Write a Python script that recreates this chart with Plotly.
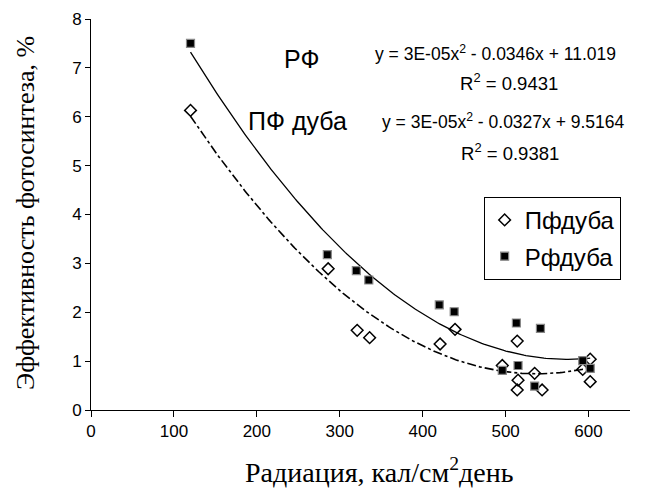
import numpy as np
import plotly.graph_objects as go

# Data
x_pf = [120, 286, 321, 336, 421, 439, 514, 496, 515, 514, 535, 544, 602, 593, 602]
y_pf = [6.13, 2.89, 1.63, 1.48, 1.35, 1.65, 1.41, 0.91, 0.61, 0.41, 0.75, 0.41, 1.04, 0.83, 0.58]
x_rf = [120, 285, 320, 335, 420, 438, 513, 542, 593, 602, 496, 515, 535]
y_rf = [7.5, 3.18, 2.85, 2.66, 2.15, 2.01, 1.78, 1.67, 1.01, 0.85, 0.81, 0.91, 0.49]

x_ticks = [0, 100, 200, 300, 400, 500, 600]
y_ticks = [0, 1, 2, 3, 4, 5, 6, 7, 8]

# polynomial (order 2) trendlines fitted to the data
c_rf = np.polyfit(x_rf, y_rf, 2)
c_pf = np.polyfit(x_pf, y_pf, 2)
xs = np.linspace(min(x_rf), max(x_rf), 200)

fig = go.Figure()
fig.add_trace(go.Scatter(x=xs, y=np.polyval(c_rf, xs), mode="lines",
                         line=dict(color="black", width=1.3), showlegend=False, hoverinfo="skip"))
fig.add_trace(go.Scatter(x=xs, y=np.polyval(c_pf, xs), mode="lines",
                         line=dict(color="black", width=1.6, dash="dashdot"), showlegend=False, hoverinfo="skip"))
fig.add_trace(go.Scatter(x=x_pf, y=y_pf, mode="markers", name="Пфдуба", legendgroup="a",
                         marker=dict(symbol="diamond-open", size=9, color="black", line=dict(width=1.5, color="black"))))
fig.add_trace(go.Scatter(x=x_rf, y=y_rf, mode="markers", name="Рфдуба", legendgroup="b",
                         marker=dict(symbol="square", size=8, color="black", line=dict(width=1.2, color="#888888"))))

# page has an 8px body margin: plot area in page pixels is x 91..630.5, y 19.3..410
OFF = 8
W, H = 648 - OFF, 490 - OFF
PL, PR, PT, PB = 91, 630.5, 19.3, 410
pw, ph = PR - PL, PB - PT

def px(xp):
    return (xp - PL) / pw

def py(yp):
    return (PB - yp) / ph

ann = []
sans = "Liberation Sans, Arial, sans-serif"
serif = "Liberation Serif, Times New Roman, serif"
ann.append(dict(x=px(302), y=py(59), text="РФ", font=dict(size=25, family=sans, color="black")))
ann.append(dict(x=px(298), y=py(121), text="ПФ дуба", font=dict(size=25, family=sans, color="black")))
ann.append(dict(x=px(373), y=py(53), xanchor="left", text="y = 3E-05x<sup>2</sup> - 0.0346x + 11.019",
                font=dict(size=17.5, family=sans, color="black")))
ann.append(dict(x=px(509), y=py(82), text="R<sup>2</sup> = 0.9431",
                font=dict(size=18.5, family=sans, color="black")))
ann.append(dict(x=px(380), y=py(121), xanchor="left", text="y = 3E-05x<sup>2</sup> - 0.0327x + 9.5164",
                font=dict(size=17.5, family=sans, color="black")))
ann.append(dict(x=px(510), y=py(152), text="R<sup>2</sup> = 0.9381",
                font=dict(size=18.5, family=sans, color="black")))
ann.append(dict(x=px(26), y=py(213), text="Эффективность фотосинтеза, %", textangle=-90,
                font=dict(size=26, family=serif, color="black")))
ann.append(dict(x=px(380), y=py(470), text="Радиация, кал/см<sup>2</sup>день",
                font=dict(size=28, family=serif, color="black")))
for a in ann:
    a.update(xref="paper", yref="paper", showarrow=False, yanchor="middle")
    a.setdefault("xanchor", "center")

fig.update_layout(
    width=W, height=H,
    margin=dict(l=PL - OFF, r=W + OFF - PR, t=PT - OFF, b=H + OFF - PB, autoexpand=False),
    paper_bgcolor="white", plot_bgcolor="white",
    annotations=ann,
    legend=dict(x=px(484), y=py(197), xanchor="left", yanchor="top",
                bordercolor="black", borderwidth=1, bgcolor="white", itemwidth=30,
                font=dict(size=24, family=sans, color="black"), tracegroupgap=2),
    xaxis=dict(range=[0, 650], tickvals=x_ticks, showgrid=False, zeroline=False,
               showline=True, linecolor="black", linewidth=1, ticks="outside", ticklen=6,
               tickcolor="black", tickfont=dict(size=17, family=sans, color="black")),
    yaxis=dict(range=[0, 8], tickvals=y_ticks, showgrid=False, zeroline=False,
               showline=True, linecolor="black", linewidth=1, ticks="outside", ticklen=5,
               tickcolor="black", tickfont=dict(size=17, family=sans, color="black")),
)

fig.write_html("out.html")
